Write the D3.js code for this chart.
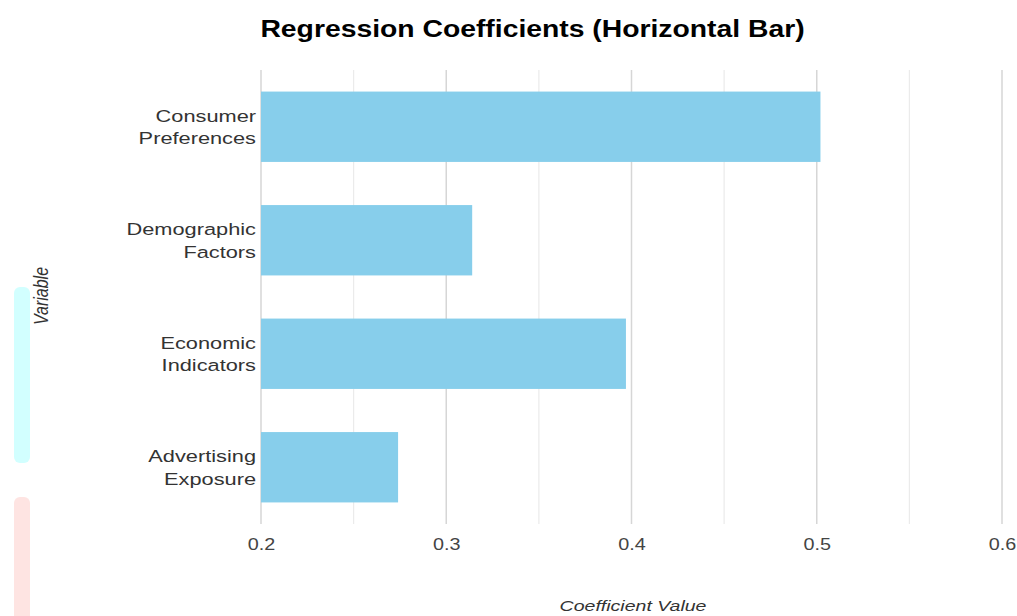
<!DOCTYPE html>
<html>
<head>
<meta charset="utf-8">
<script src="https://cdn.jsdelivr.net/npm/d3@7"></script>
<style>
  body { margin: 0; background: #fff; }
  svg { font-family: "Liberation Sans", Arial, sans-serif; }
</style>
</head>
<body>
<script>
const w = 1017
const h = 616

// data
const variables = ["Consumer Preferences", "Demographic Factors", "Economic Indicators", "Advertising Exposure"]
const coefficients = [0.502, 0.314, 0.397, 0.274]
const xTicks = [0.2, 0.3, 0.4, 0.5, 0.6]
const xMinorTicks = [0.25, 0.35, 0.45, 0.55]

let margin = { top: 70, left: 261, bottom: 92, right: 15 }

const svg = d3.select('body')
    .append('svg')
    .attr('width', w)
    .attr('height', h)

// faint shapes at the left edge
svg.append('rect')
    .attr('x', 14).attr('y', 287)
    .attr('width', 16).attr('height', 176)
    .attr('rx', 6)
    .attr('fill', '#d2ffff')
svg.append('rect')
    .attr('x', 14).attr('y', 497)
    .attr('width', 16).attr('height', 130)
    .attr('rx', 6)
    .attr('fill', '#fee4e2')

const x = d3.scaleLinear()
    .domain([0.2, 0.6])
    .range([margin.left, w - margin.right])

const y = d3.scaleBand()
    .domain(variables)
    .range([margin.top, h - margin.bottom])
    .paddingInner(0.38)
    .paddingOuter(0.19)

const g = svg.append('g')

// grid lines
g.selectAll('line.minor')
    .data(xMinorTicks)
    .enter()
    .append('line')
    .attr('class', 'minor')
    .attr('x1', d => x(d)).attr('x2', d => x(d))
    .attr('y1', margin.top).attr('y2', h - margin.bottom)
    .attr('stroke', '#ebebeb')
    .attr('stroke-width', 1.2)

g.selectAll('line.major')
    .data(xTicks)
    .enter()
    .append('line')
    .attr('class', 'major')
    .attr('x1', d => x(d)).attr('x2', d => x(d))
    .attr('y1', margin.top).attr('y2', h - margin.bottom)
    .attr('stroke', '#d6d6d6')
    .attr('stroke-width', 1.5)

// bars
g.selectAll('rect.bar')
    .data(variables)
    .enter()
    .append('rect')
    .attr('class', 'bar')
    .attr('x', x(0.2))
    .attr('y', d => y(d))
    .attr('width', (d, i) => x(coefficients[i]) - x(0.2))
    .attr('height', y.bandwidth())
    .attr('fill', '#87ceeb')

// the text in the picture is wider than normal, so stretch it sideways
const stretched = (px, py, sx, extra) =>
    `translate(${px},${py}) scale(${sx},1)` + (extra || '')

// x axis labels
const xAxis = d3.axisBottom(x)
    .tickValues(xTicks)
    .tickSize(0)
    .tickPadding(0)
    .tickFormat(d3.format('.1f'))

const ax = svg.append('g')
    .attr('transform', `translate(0,${h - margin.bottom})`)
    .call(xAxis)
ax.select('.domain').remove()
ax.selectAll('.tick text')
    .attr('y', 0)
    .attr('dy', 0)
    .attr('transform', stretched(0, 26, 1.2))
    .attr('font-size', 16.5)
    .attr('fill', '#444')
    .attr('font-family', '"Liberation Sans", Arial, sans-serif')

// y labels, two lines each
const yLabels = svg.append('g')
variables.forEach(v => {
    const words = v.split(' ')
    const cy = y(v) + y.bandwidth() / 2
    const t = yLabels.append('text')
        .attr('text-anchor', 'end')
        .attr('font-size', 16.5)
        .attr('fill', '#333')
        .attr('transform', stretched(256, cy, 1.32))
    words.forEach((word, i) => {
        t.append('tspan')
            .attr('x', 0)
            .attr('y', -5 + i * 22.5)
            .text(word)
    })
})

// title
svg.append('text')
    .attr('transform', stretched(532.5, 37, 1.18))
    .attr('text-anchor', 'middle')
    .attr('font-size', 24)
    .attr('font-weight', 'bold')
    .attr('fill', '#000')
    .text('Regression Coefficients (Horizontal Bar)')

// axis titles
svg.append('text')
    .attr('transform', stretched(633, 611, 1.26))
    .attr('text-anchor', 'middle')
    .attr('font-size', 15.5)
    .attr('font-style', 'italic')
    .attr('fill', '#333')
    .text('Coefficient Value')

svg.append('text')
    .attr('transform', stretched(48, 296, 1.3, ' rotate(-90)'))
    .attr('text-anchor', 'middle')
    .attr('font-size', 16)
    .attr('font-style', 'italic')
    .attr('fill', '#333')
    .text('Variable')
</script>
</body>
</html>
